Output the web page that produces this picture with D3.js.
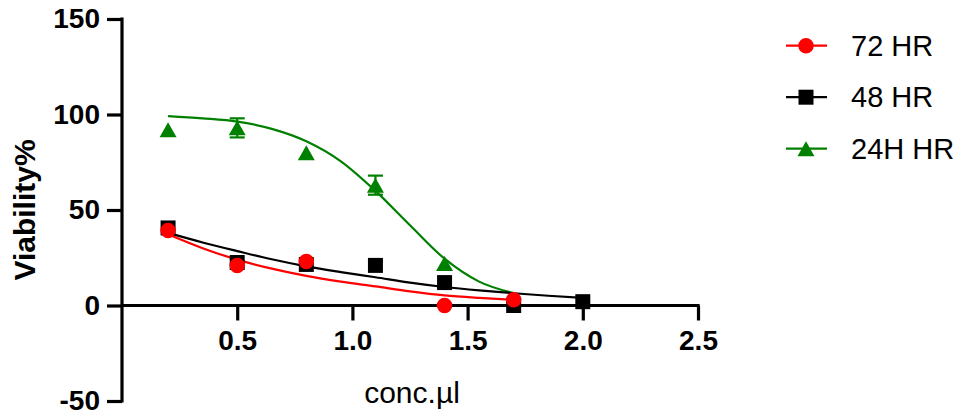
<!DOCTYPE html>
<html>
<head>
<meta charset="utf-8">
<script src="https://cdn.jsdelivr.net/npm/d3@7"></script>
<style>
  html, body { margin: 0; padding: 0; background: #fff; }
  svg { display: block; font-family: "Liberation Sans", Arial, sans-serif; }
</style>
</head>
<body>
<svg id="chart" width="957" height="417"></svg>
<script>
// Concentrations and measured viability (%) per exposure time
const conc = [0.2, 0.5, 0.8, 1.1, 1.4, 1.7, 2.0];
const viab72 = [39.3, 21, 23, null, 0, 3, null];
const viab48 = [40.6, 22.5, 21.5, 21, 12, 0, 2];
const viab24 = [92, 93, 80, 63, 22, null, null];
const sd24 = [0, 5, 0, 5, 0, null, null];

// Fitted dose-response curves, sampled along concentration
const fitConc = [0.2, 0.35, 0.5, 0.65, 0.8, 0.95, 1.1, 1.25, 1.4, 1.55, 1.7, 1.85, 2.0];
const fit72 = [37.3, 30, 24, 19.3, 15.5, 12.5, 10, 7.4, 5.3, 4, 3, null, null];
const fit48 = [38, 33, 28.5, 24.2, 20.5, 17.5, 14.8, 12, 9.7, 7.9, 6.4, 5.1, 4];
const fit24 = [99.2, 98, 96.3, 92.5, 86, 75.5, 60, 42, 24.5, 12.5, 6.5, null, null];

const xTicks = [0.5, 1.0, 1.5, 2.0, 2.5];
const yTicks = [-50, 0, 50, 100, 150];
const seriesNames = ["72 HR", "48 HR", "24H HR"];

const svg = d3.select("#chart");
const x = d3.scaleLinear().domain([0, 2.5]).range([122, 698]);
const y = d3.scaleLinear().domain([-50, 150]).range([401, 19]);

// Triangle centred on its bounding box
const triangleBox = {
  draw(ctx, size) {
    const w = Math.sqrt(size) * 1.13, h = w * 0.88;
    ctx.moveTo(0, -h / 2);
    ctx.lineTo(w / 2, h / 2);
    ctx.lineTo(-w / 2, h / 2);
    ctx.closePath();
  }
};

const series = [
  { name: seriesNames[2], color: "#008000", vals: viab24, fit: fit24, sd: sd24, type: triangleBox, size: 226 },
  { name: seriesNames[1], color: "#000000", vals: viab48, fit: fit48, sd: null, type: d3.symbolSquare, size: 225 },
  { name: seriesNames[0], color: "#ff0000", vals: viab72, fit: fit72, sd: null, type: d3.symbolCircle, size: 189 }
];

// Axes
const yAxis = d3.axisLeft(y).tickValues(yTicks).tickSize(15).tickPadding(7).tickFormat(d => String(d));
const gy = svg.append("g").attr("transform", `translate(${x(0)},0)`).call(yAxis);
const xAxis = d3.axisBottom(x).tickValues(xTicks).tickSize(15).tickPadding(10).tickFormat(d3.format(".1f"));
const gx = svg.append("g").attr("transform", `translate(0,${y(0)})`).call(xAxis);

[gx, gy].forEach(g => {
  g.select(".domain").attr("stroke", "#000").attr("stroke-width", 3.2).attr("d", null);
  g.selectAll(".tick line").attr("stroke", "#000").attr("stroke-width", 3.2);
  g.selectAll(".tick text").attr("fill", "#000").style("font-size", "28px").style("font-weight", "bold")
    .style("font-family", "'Liberation Sans', Arial, sans-serif");
});
gy.select(".domain").attr("d", `M0,${y(150) - 1.6}V${y(-50) + 1.6}`);
gx.select(".domain").attr("d", `M${x(0)},0H${x(2.5) + 1.6}`);

// Axis titles
svg.append("text")
  .attr("transform", `translate(35,${(y(150) + y(-50)) / 2}) rotate(-90)`)
  .attr("text-anchor", "middle")
  .style("font-size", "30px").style("font-weight", "bold")
  .text("Viability%");
svg.append("text")
  .attr("x", (x(0) + x(2.5)) / 2 + 2).attr("y", 403)
  .attr("text-anchor", "middle")
  .style("font-size", "30px")
  .text("conc.\u00b5l");

// Fitted curves
const line = d3.line()
  .defined(d => d[1] != null)
  .x(d => x(d[0])).y(d => y(d[1]))
  .curve(d3.curveMonotoneX);
series.forEach(s => {
  svg.append("path")
    .attr("d", line(fitConc.map((c, i) => [c, s.fit[i]])))
    .attr("fill", "none").attr("stroke", s.color).attr("stroke-width", 2.2);
});

// Error bars (SD)
series.filter(s => s.sd).forEach(s => {
  const g = svg.append("g").attr("stroke", s.color).attr("stroke-width", 2.2);
  conc.forEach((c, i) => {
    const v = s.vals[i], e = s.sd[i];
    if (v == null || !e) return;
    g.append("line").attr("x1", x(c)).attr("x2", x(c)).attr("y1", y(v + e)).attr("y2", y(v - e));
    g.append("line").attr("x1", x(c) - 7.5).attr("x2", x(c) + 7.5).attr("y1", y(v + e)).attr("y2", y(v + e));
    g.append("line").attr("x1", x(c) - 7.5).attr("x2", x(c) + 7.5).attr("y1", y(v - e)).attr("y2", y(v - e));
  });
});

// Data points
series.forEach(s => {
  const sym = d3.symbol().type(s.type).size(s.size);
  svg.append("g").selectAll("path")
    .data(conc.map((c, i) => [c, s.vals[i]]).filter(d => d[1] != null))
    .join("path")
    .attr("transform", d => `translate(${x(d[0])},${y(d[1])})`)
    .attr("d", sym())
    .attr("fill", s.color);
});

// Legend
const legendRows = [series[2], series[1], series[0]];
const lg = svg.append("g");
legendRows.forEach((s, i) => {
  const cy = 45.7 + i * 51.5;
  lg.append("line").attr("x1", 786).attr("x2", 827).attr("y1", cy).attr("y2", cy)
    .attr("stroke", s.color).attr("stroke-width", 2.2);
  lg.append("path").attr("transform", `translate(806,${cy})`)
    .attr("d", d3.symbol().type(s.type).size(s.size)()).attr("fill", s.color);
  lg.append("text").attr("x", 851).attr("y", cy + 10)
    .style("font-size", "29px").text(s.name);
});
</script>
</body>
</html>
